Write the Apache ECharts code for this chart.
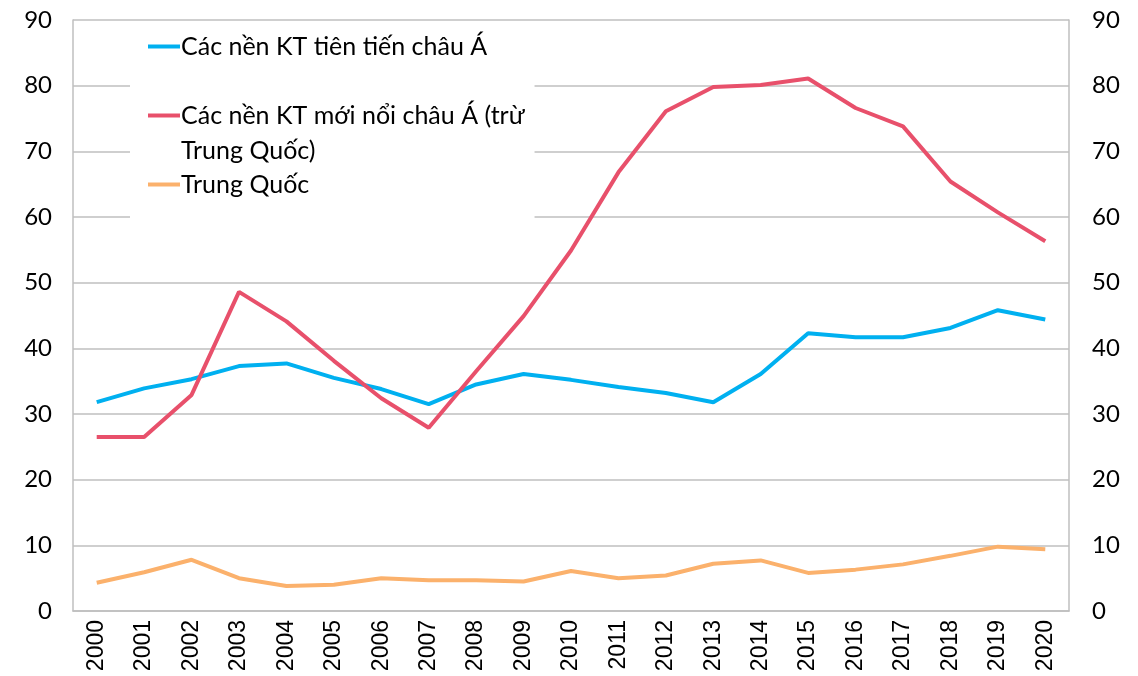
<!DOCTYPE html>
<html>
<head>
<meta charset="utf-8">
<script src="https://cdn.jsdelivr.net/npm/echarts@6/dist/echarts.min.js"></script>
<style>
  html, body { margin: 0; padding: 0; background: #fff; }
  #chart { width: 1138px; height: 676px; }
</style>
</head>
<body>
<div id="chart"></div>
<script>
// năm
const years = ['2000', '2001', '2002', '2003', '2004', '2005', '2006', '2007', '2008', '2009', '2010',
  '2011', '2012', '2013', '2014', '2015', '2016', '2017', '2018', '2019', '2020'];

// Các nền KT tiên tiến châu Á
const advanced = [31.8, 33.9, 35.3, 37.3, 37.7, 35.5, 33.8, 31.5, 34.5, 36.1, 35.2,
  34.1, 33.2, 31.8, 36.1, 42.3, 41.7, 41.7, 43.1, 45.8, 44.4];

// Các nền KT mới nổi châu Á (trừ Trung Quốc)
const emerging = [26.5, 26.5, 32.9, 48.6, 44.1, 38.1, 32.4, 27.9, 36.5, 44.9, 54.9,
  66.8, 76.1, 79.8, 80.1, 81.1, 76.6, 73.8, 65.4, 60.7, 56.3];

// Trung Quốc
const china = [4.3, 5.9, 7.8, 5.0, 3.8, 4.0, 5.0, 4.7, 4.7, 4.5, 6.1,
  5.0, 5.4, 7.2, 7.7, 5.8, 6.3, 7.1, 8.4, 9.8, 9.4];

const names = ['Các nền KT tiên tiến châu Á', 'Các nền KT mới nổi châu Á (trừ\nTrung Quốc)', 'Trung Quốc'];
const colors = ['#00B0F0', '#E8506B', '#FBB16C'];

const labelFont = 'Lato, "Open Sans", sans-serif';
const gridColor = '#BFBFBF';

let myChart = echarts.init(document.getElementById('chart'), null, { renderer: 'canvas' });

function yAxisCfg (pos) {
  return {
    type: 'value',
    position: pos,
    min: 0,
    max: 90,
    interval: 10,
    axisLine: { show: true, lineStyle: { color: gridColor, width: 1.5 } },
    axisTick: { show: false },
    axisLabel: {
      margin: pos === 'left' ? 21 : 23,
      color: '#000',
      fontSize: 24,
      fontFamily: labelFont
    },
    splitLine: { show: pos === 'left', lineStyle: { color: gridColor, width: 1.5 } }
  };
}

myChart.setOption({
  animation: false,
  backgroundColor: '#fff',
  grid: {
    left: 73,
    right: 69,
    top: 20,
    bottom: 65
  },
  legend: {
    orient: 'vertical',
    left: 130,
    top: 24,
    padding: [5, 10, 20, 18],
    itemGap: -1,
    itemWidth: 32,
    itemHeight: 4,
    icon: 'rect',
    backgroundColor: '#fff',
    textStyle: {
      fontSize: 25,
      fontFamily: labelFont,
      color: '#000',
      lineHeight: 35,
      padding: [0, 0, 0, -4]
    },
    // dòng trống phía trên để ký hiệu nằm ngang dòng đầu của nhãn hai dòng
    formatter: (name) => name.indexOf('\n') >= 0 ? '\n' + name : name,
    data: names
  },
  xAxis: {
    type: 'category',
    data: years,
    boundaryGap: true,
    axisLine: { show: true, lineStyle: { color: gridColor, width: 1.5 } },
    axisTick: { show: false },
    axisLabel: {
      rotate: 90,
      margin: 9,
      interval: 0,
      color: '#000',
      fontSize: 23,
      fontFamily: '"Liberation Sans", Arial, sans-serif'
    }
  },
  yAxis: [yAxisCfg('left'), yAxisCfg('right')],
  series: [
    { name: names[0], data: advanced },
    { name: names[1], data: emerging },
    { name: names[2], data: china }
  ].map((s, i) => ({
    name: s.name,
    type: 'line',
    data: s.data,
    symbol: 'none',
    color: colors[i],
    lineStyle: { width: 4, color: colors[i] }
  }))
});
</script>
</body>
</html>
